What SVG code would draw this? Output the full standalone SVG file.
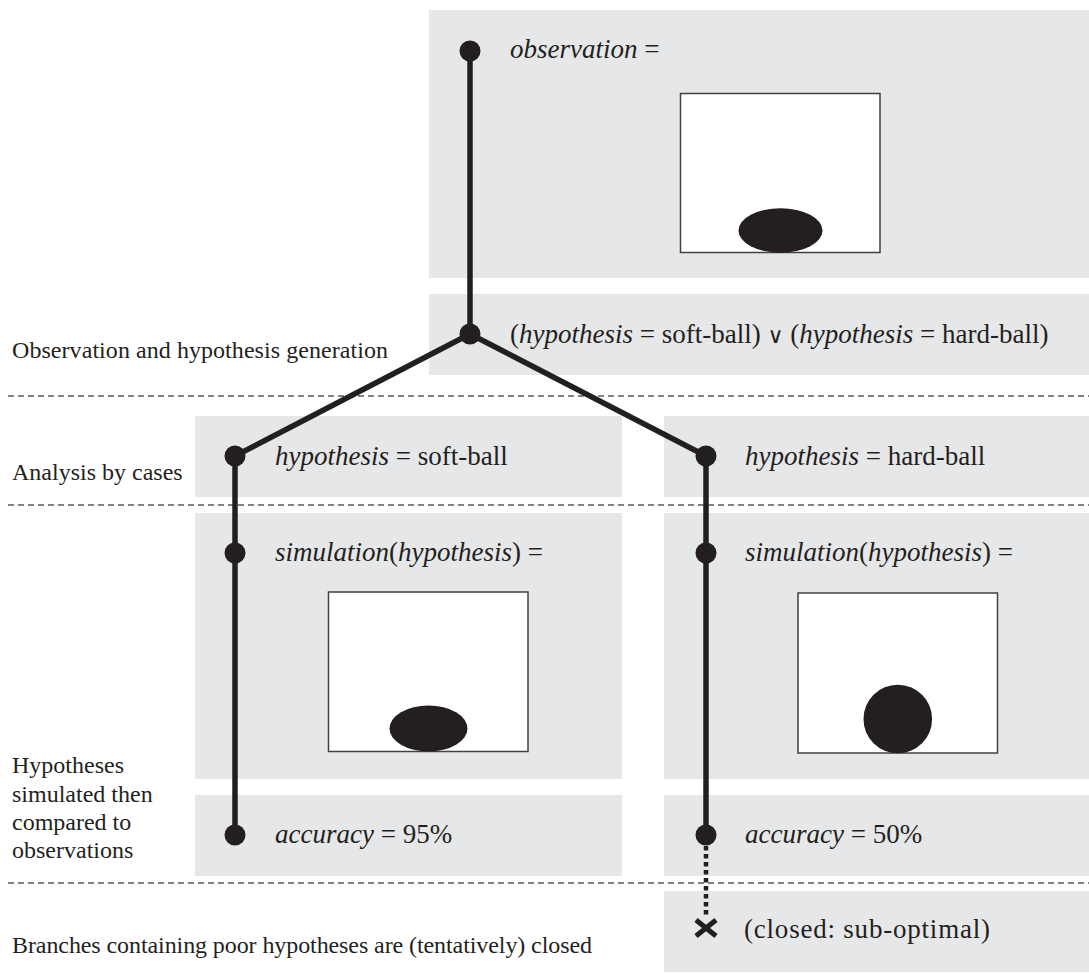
<svg xmlns="http://www.w3.org/2000/svg" width="1089" height="974" viewBox="0 0 1089 974">
<style>
.panel{fill:#e6e7e8}
.pic{fill:#ffffff;stroke:#414042;stroke-width:1.5}
.ball{fill:#231f20}
.t{font-family:"Liberation Serif","Times New Roman",serif;font-size:27px;fill:#231f20}
.lbl{font-family:"Liberation Serif","Times New Roman",serif;font-size:24px;fill:#231f20}
.i{font-style:italic}
.sep{stroke:#58595b;stroke-width:1.4;stroke-dasharray:6 4;fill:none}
.edge{stroke:#231f20;stroke-width:5.5;fill:none}
.dotted{stroke:#231f20;stroke-width:4.5;stroke-dasharray:4.5 3.5;fill:none}
.dot{fill:#231f20}
</style>
<rect width="1089" height="974" fill="#ffffff"/>

<g id="separators">
<line class="sep" x1="8" y1="396" x2="1089" y2="396"/>
<line class="sep" x1="8" y1="505" x2="1089" y2="505"/>
<line class="sep" x1="8" y1="883" x2="1089" y2="883"/>
</g>

<g id="stage-labels">
<text class="lbl" x="12" y="358" textLength="376">Observation and hypothesis generation</text>
<text class="lbl" x="12" y="480">Analysis by cases</text>
<text class="lbl" x="12" y="773">Hypotheses</text>
<text class="lbl" x="12" y="802">simulated then</text>
<text class="lbl" x="12" y="830">compared to</text>
<text class="lbl" x="12" y="858">observations</text>
<text class="lbl" x="12" y="953" textLength="580">Branches containing poor hypotheses are (tentatively) closed</text>
</g>

<g id="node-observation">
<rect class="panel" x="429" y="10" width="660" height="268"/>
<text class="t" x="510" y="58"><tspan class="i">observation</tspan> =</text>
<rect class="pic" x="680.5" y="93.5" width="199.5" height="159"/>
<ellipse class="ball" cx="780.5" cy="230.5" rx="42" ry="22.3"/>
</g>

<g id="node-hypotheses">
<rect class="panel" x="429" y="294" width="660" height="81"/>
<text class="t" x="510" y="343">(<tspan class="i">hypothesis</tspan> = soft-ball) <tspan font-family="DejaVu Serif, serif" font-size="22">∨</tspan> (<tspan class="i">hypothesis</tspan> = hard-ball)</text>
</g>

<g id="node-soft">
<rect class="panel" x="195" y="416" width="427" height="81"/>
<text class="t" x="275" y="465"><tspan class="i">hypothesis</tspan> = soft-ball</text>
</g>

<g id="node-hard">
<rect class="panel" x="664" y="416" width="425" height="81"/>
<text class="t" x="745" y="465"><tspan class="i">hypothesis</tspan> = hard-ball</text>
</g>

<g id="node-sim-soft">
<rect class="panel" x="195" y="513" width="427" height="266"/>
<text class="t" x="275" y="561"><tspan class="i">simulation</tspan>(<tspan class="i">hypothesis</tspan>) =</text>
<rect class="pic" x="328.5" y="592" width="199.5" height="159.5"/>
<ellipse class="ball" cx="428.5" cy="728.5" rx="39" ry="23"/>
</g>

<g id="node-sim-hard">
<rect class="panel" x="664" y="513" width="425" height="266"/>
<text class="t" x="745" y="561"><tspan class="i">simulation</tspan>(<tspan class="i">hypothesis</tspan>) =</text>
<rect class="pic" x="798" y="593" width="199.5" height="160"/>
<circle class="ball" cx="897.8" cy="719" r="34.3"/>
</g>

<g id="node-acc-soft">
<rect class="panel" x="195" y="795" width="427" height="81"/>
<text class="t" x="275" y="843"><tspan class="i">accuracy</tspan> = 95%</text>
</g>

<g id="node-acc-hard">
<rect class="panel" x="664" y="795" width="425" height="81"/>
<text class="t" x="745" y="843"><tspan class="i">accuracy</tspan> = 50%</text>
</g>

<g id="node-closed">
<rect class="panel" x="664" y="891" width="425" height="81"/>
<text class="t" x="744" y="938" textLength="246">(closed: sub-optimal)</text>
</g>

<g id="connectors">
<line class="edge" x1="470" y1="51" x2="470" y2="334"/>
<line class="edge" x1="470" y1="334" x2="235" y2="456"/>
<line class="edge" x1="470" y1="334" x2="706" y2="456"/>
<line class="edge" x1="235" y1="456" x2="235" y2="835"/>
<line class="edge" x1="706" y1="456" x2="706" y2="835"/>
<line class="dotted" x1="706" y1="846" x2="706" y2="918"/>
<g stroke="#231f20" stroke-width="5">
<line x1="696" y1="920" x2="716" y2="936"/>
<line x1="716" y1="920" x2="696" y2="936"/>
</g>
<circle class="dot" cx="470" cy="51" r="10.5"/>
<circle class="dot" cx="470" cy="334" r="10.5"/>
<circle class="dot" cx="235" cy="456" r="10.5"/>
<circle class="dot" cx="706" cy="456" r="10.5"/>
<circle class="dot" cx="235" cy="553" r="10.5"/>
<circle class="dot" cx="706" cy="553" r="10.5"/>
<circle class="dot" cx="235" cy="835" r="10.5"/>
<circle class="dot" cx="706" cy="835" r="10.5"/>
</g>
</svg>
